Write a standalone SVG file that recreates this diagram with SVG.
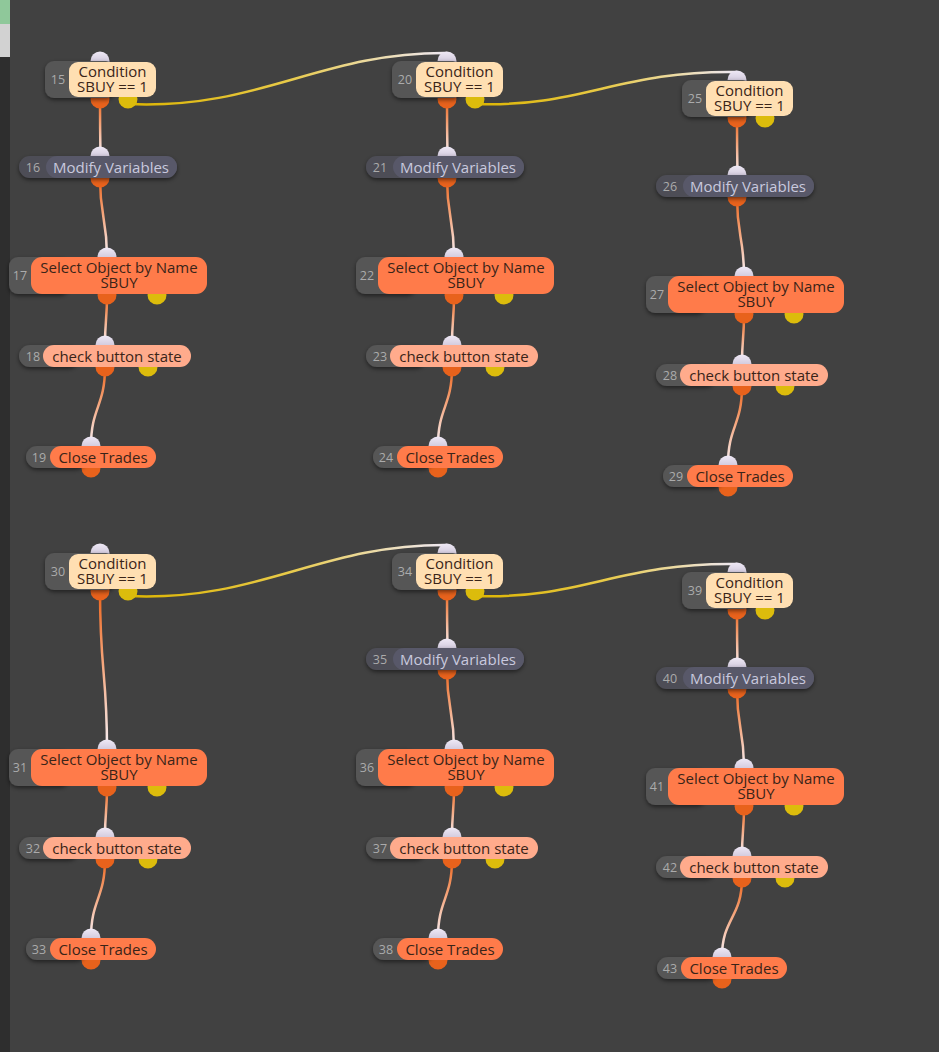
<svg xmlns="http://www.w3.org/2000/svg" xmlns:xlink="http://www.w3.org/1999/xlink" width="939" height="1052" viewBox="0 0 939 1052">
<style>
.tab{fill:#565656;filter:url(#sh)}
.tabm{fill:#4e4e57;filter:url(#sh)}
.b-cond{fill:#ffdfb2}
.b-mod{fill:#585869}
.b-sel{fill:#ff7b4a}
.b-chk{fill:#ffab8c}
.pin-in{fill:url(#gIn)}
.pin-out{fill:#e8621c}
.pin-y{fill:#dcbc0c}
.num{font-family:"Open Sans","Noto Sans",sans-serif;font-size:12.5px;fill:#ababab;text-anchor:middle}
.lbl{font-family:"Open Sans","Noto Sans",sans-serif;font-size:15px;fill:#3a2418;text-anchor:middle}
.lblm{font-family:"Open Sans","Noto Sans",sans-serif;font-size:15px;fill:#c9c9de;text-anchor:middle}
.wo{fill:none;stroke:url(#gO);stroke-width:2.5}
.wy{fill:none;stroke:url(#gY);stroke-width:2.5}
</style>
<defs>
<filter id="sh" x="-20%" y="-30%" width="140%" height="180%">
<feDropShadow dx="0" dy="2" stdDeviation="2" flood-color="#000" flood-opacity="0.5"/>
</filter>
<linearGradient id="gIn" x1="0" y1="0" x2="0" y2="1">
<stop offset="0" stop-color="#efe9f6"/><stop offset="1" stop-color="#b9b0c8"/>
</linearGradient>
<linearGradient id="gO" x1="0" y1="0" x2="0" y2="1">
<stop offset="0" stop-color="#ee651c"/><stop offset="0.45" stop-color="#f4a47a"/><stop offset="1" stop-color="#f7f1f6"/>
</linearGradient>
<linearGradient id="gY" x1="0" y1="0" x2="1" y2="0">
<stop offset="0" stop-color="#dcb400"/><stop offset="0.5" stop-color="#e8ca48"/><stop offset="1" stop-color="#efe9f6"/>
</linearGradient>
<g id="cond">
<circle class="pin-in" cx="55" cy="0" r="9.5"/>
<circle class="pin-out" cx="55" cy="38" r="9.5"/>
<circle class="pin-y" cx="83" cy="38" r="9.5"/>
<rect class="tab" x="0" y="0" width="70" height="37" rx="9"/>
<rect class="b-cond" x="24" y="1" width="87" height="35" rx="9"/>
</g>
<g id="mod">
<circle class="pin-in" cx="81" cy="0" r="9.5"/>
<circle class="pin-out" cx="81" cy="22" r="9.5"/>
<rect class="tabm" x="0" y="0" width="158" height="22" rx="11"/>
<rect class="b-mod" x="27" y="0" width="131" height="22" rx="11"/>
</g>
<g id="sel">
<circle class="pin-in" cx="98" cy="0" r="9.5"/>
<circle class="pin-out" cx="98" cy="38" r="9.5"/>
<circle class="pin-y" cx="148" cy="38" r="9.5"/>
<rect class="tab" x="0" y="0" width="60" height="37" rx="9"/>
<rect class="b-sel" x="22" y="0" width="176" height="37" rx="11"/>
</g>
<g id="chk">
<circle class="pin-in" cx="86" cy="0" r="9.5"/>
<circle class="pin-out" cx="86" cy="22" r="9.5"/>
<circle class="pin-y" cx="129" cy="22" r="9.5"/>
<rect class="tab" x="0" y="0" width="60" height="22" rx="11"/>
<rect class="b-chk" x="24" y="0" width="148" height="22" rx="11"/>
</g>
<g id="cls">
<circle class="pin-in" cx="65" cy="0" r="9.5"/>
<circle class="pin-out" cx="65" cy="22" r="9.5"/>
<rect class="tab" x="0" y="0" width="60" height="22" rx="11"/>
<rect class="b-sel" x="24" y="0" width="106" height="22" rx="11"/>
</g>
</defs>

<rect x="0" y="0" width="939" height="1052" fill="#414141"/>
<rect x="0" y="0" width="10" height="1052" fill="#2e2e2e"/>
<rect x="0" y="0" width="10" height="24" fill="#8fc89a"/>
<rect x="0" y="24" width="10" height="33" fill="#d2d2d2"/>

<g id="connectors">
<g transform="translate(0,0)">
<path class="wo" d="M100,99 C100,128 100,128 100.5,156"/>
<path class="wo" d="M100,178 C100,218 107,218 107,257"/>
<path class="wo" d="M107,295 C107,320 105,320 105,345"/>
<path class="wo" d="M105,367 C105,407 91,407 91,446"/>
</g>
<g transform="translate(347,0)">
<path class="wo" d="M100,99 C100,128 100,128 100.5,156"/>
<path class="wo" d="M100,178 C100,218 107,218 107,257"/>
<path class="wo" d="M107,295 C107,320 105,320 105,345"/>
<path class="wo" d="M105,367 C105,407 91,407 91,446"/>
</g>
<g transform="translate(637,19)">
<path class="wo" d="M100,99 C100,128 100,128 100.5,156"/>
<path class="wo" d="M100,178 C100,218 107,218 107,257"/>
<path class="wo" d="M107,295 C107,320 105,320 105,345"/>
<path class="wo" d="M105,367 C105,407 91,407 91,446"/>
</g>
<g transform="translate(0,492)">
<path class="wo" d="M100,99 C100,180 107,180 107,257"/>
<path class="wo" d="M107,295 C107,320 105,320 105,345"/>
<path class="wo" d="M105,367 C105,407 91,407 91,446"/>
</g>
<g transform="translate(347,492)">
<path class="wo" d="M100,99 C100,128 100,128 100.5,156"/>
<path class="wo" d="M100,178 C100,218 107,218 107,257"/>
<path class="wo" d="M107,295 C107,320 105,320 105,345"/>
<path class="wo" d="M105,367 C105,407 91,407 91,446"/>
</g>
<g transform="translate(637,511)">
<path class="wo" d="M100,99 C100,128 100,128 100.5,156"/>
<path class="wo" d="M100,178 C100,218 107,218 107,257"/>
<path class="wo" d="M107,295 C107,320 105,320 105,345"/>
<path class="wo" d="M105,367 C105,407 85,407 85,446"/>
</g>
<path class="wy" d="M128,104 C260,110 320,52 447,53"/>
<path class="wy" d="M475,104 C580,108 620,70 737,72"/>
<path class="wy" d="M128,596 C260,602 320,544 447,545"/>
<path class="wy" d="M475,596 C580,600 620,562 737,564"/>
</g>

<g id="node-15" transform="translate(45,61)"><use href="#cond"/><text class="num" x="13" y="23">15</text><text class="lbl" x="67.5" y="16">Condition<tspan x="67.5" dy="15">SBUY == 1</tspan></text></g>
<g id="node-16" transform="translate(19,156)"><use href="#mod"/><text class="num" x="14" y="15.5">16</text><text class="lblm" x="92" y="16.5">Modify Variables</text></g>
<g id="node-17" transform="translate(9,257)"><use href="#sel"/><text class="num" x="11" y="23">17</text><text class="lbl" x="110" y="16">Select Object by Name<tspan x="110" dy="14.5">SBUY</tspan></text></g>
<g id="node-18" transform="translate(19,345)"><use href="#chk"/><text class="num" x="14" y="15.5">18</text><text class="lbl" x="98" y="16.5">check button state</text></g>
<g id="node-19" transform="translate(26,446)"><use href="#cls"/><text class="num" x="13" y="15.5">19</text><text class="lbl" x="77" y="16.5">Close Trades</text></g>

<g id="node-20" transform="translate(392,61)"><use href="#cond"/><text class="num" x="13" y="23">20</text><text class="lbl" x="67.5" y="16">Condition<tspan x="67.5" dy="15">SBUY == 1</tspan></text></g>
<g id="node-21" transform="translate(366,156)"><use href="#mod"/><text class="num" x="14" y="15.5">21</text><text class="lblm" x="92" y="16.5">Modify Variables</text></g>
<g id="node-22" transform="translate(356,257)"><use href="#sel"/><text class="num" x="11" y="23">22</text><text class="lbl" x="110" y="16">Select Object by Name<tspan x="110" dy="14.5">SBUY</tspan></text></g>
<g id="node-23" transform="translate(366,345)"><use href="#chk"/><text class="num" x="14" y="15.5">23</text><text class="lbl" x="98" y="16.5">check button state</text></g>
<g id="node-24" transform="translate(373,446)"><use href="#cls"/><text class="num" x="13" y="15.5">24</text><text class="lbl" x="77" y="16.5">Close Trades</text></g>

<g id="node-25" transform="translate(682,80)"><use href="#cond"/><text class="num" x="13" y="23">25</text><text class="lbl" x="67.5" y="16">Condition<tspan x="67.5" dy="15">SBUY == 1</tspan></text></g>
<g id="node-26" transform="translate(656,175)"><use href="#mod"/><text class="num" x="14" y="15.5">26</text><text class="lblm" x="92" y="16.5">Modify Variables</text></g>
<g id="node-27" transform="translate(646,276)"><use href="#sel"/><text class="num" x="11" y="23">27</text><text class="lbl" x="110" y="16">Select Object by Name<tspan x="110" dy="14.5">SBUY</tspan></text></g>
<g id="node-28" transform="translate(656,364)"><use href="#chk"/><text class="num" x="14" y="15.5">28</text><text class="lbl" x="98" y="16.5">check button state</text></g>
<g id="node-29" transform="translate(663,465)"><use href="#cls"/><text class="num" x="13" y="15.5">29</text><text class="lbl" x="77" y="16.5">Close Trades</text></g>

<g id="node-30" transform="translate(45,553)"><use href="#cond"/><text class="num" x="13" y="23">30</text><text class="lbl" x="67.5" y="16">Condition<tspan x="67.5" dy="15">SBUY == 1</tspan></text></g>
<g id="node-31" transform="translate(9,749)"><use href="#sel"/><text class="num" x="11" y="23">31</text><text class="lbl" x="110" y="16">Select Object by Name<tspan x="110" dy="14.5">SBUY</tspan></text></g>
<g id="node-32" transform="translate(19,837)"><use href="#chk"/><text class="num" x="14" y="15.5">32</text><text class="lbl" x="98" y="16.5">check button state</text></g>
<g id="node-33" transform="translate(26,938)"><use href="#cls"/><text class="num" x="13" y="15.5">33</text><text class="lbl" x="77" y="16.5">Close Trades</text></g>

<g id="node-34" transform="translate(392,553)"><use href="#cond"/><text class="num" x="13" y="23">34</text><text class="lbl" x="67.5" y="16">Condition<tspan x="67.5" dy="15">SBUY == 1</tspan></text></g>
<g id="node-35" transform="translate(366,648)"><use href="#mod"/><text class="num" x="14" y="15.5">35</text><text class="lblm" x="92" y="16.5">Modify Variables</text></g>
<g id="node-36" transform="translate(356,749)"><use href="#sel"/><text class="num" x="11" y="23">36</text><text class="lbl" x="110" y="16">Select Object by Name<tspan x="110" dy="14.5">SBUY</tspan></text></g>
<g id="node-37" transform="translate(366,837)"><use href="#chk"/><text class="num" x="14" y="15.5">37</text><text class="lbl" x="98" y="16.5">check button state</text></g>
<g id="node-38" transform="translate(373,938)"><use href="#cls"/><text class="num" x="13" y="15.5">38</text><text class="lbl" x="77" y="16.5">Close Trades</text></g>

<g id="node-39" transform="translate(682,572)"><use href="#cond"/><text class="num" x="13" y="23">39</text><text class="lbl" x="67.5" y="16">Condition<tspan x="67.5" dy="15">SBUY == 1</tspan></text></g>
<g id="node-40" transform="translate(656,667)"><use href="#mod"/><text class="num" x="14" y="15.5">40</text><text class="lblm" x="92" y="16.5">Modify Variables</text></g>
<g id="node-41" transform="translate(646,768)"><use href="#sel"/><text class="num" x="11" y="23">41</text><text class="lbl" x="110" y="16">Select Object by Name<tspan x="110" dy="14.5">SBUY</tspan></text></g>
<g id="node-42" transform="translate(656,856)"><use href="#chk"/><text class="num" x="14" y="15.5">42</text><text class="lbl" x="98" y="16.5">check button state</text></g>
<g id="node-43" transform="translate(657,957)"><use href="#cls"/><text class="num" x="13" y="15.5">43</text><text class="lbl" x="77" y="16.5">Close Trades</text></g>
</svg>
